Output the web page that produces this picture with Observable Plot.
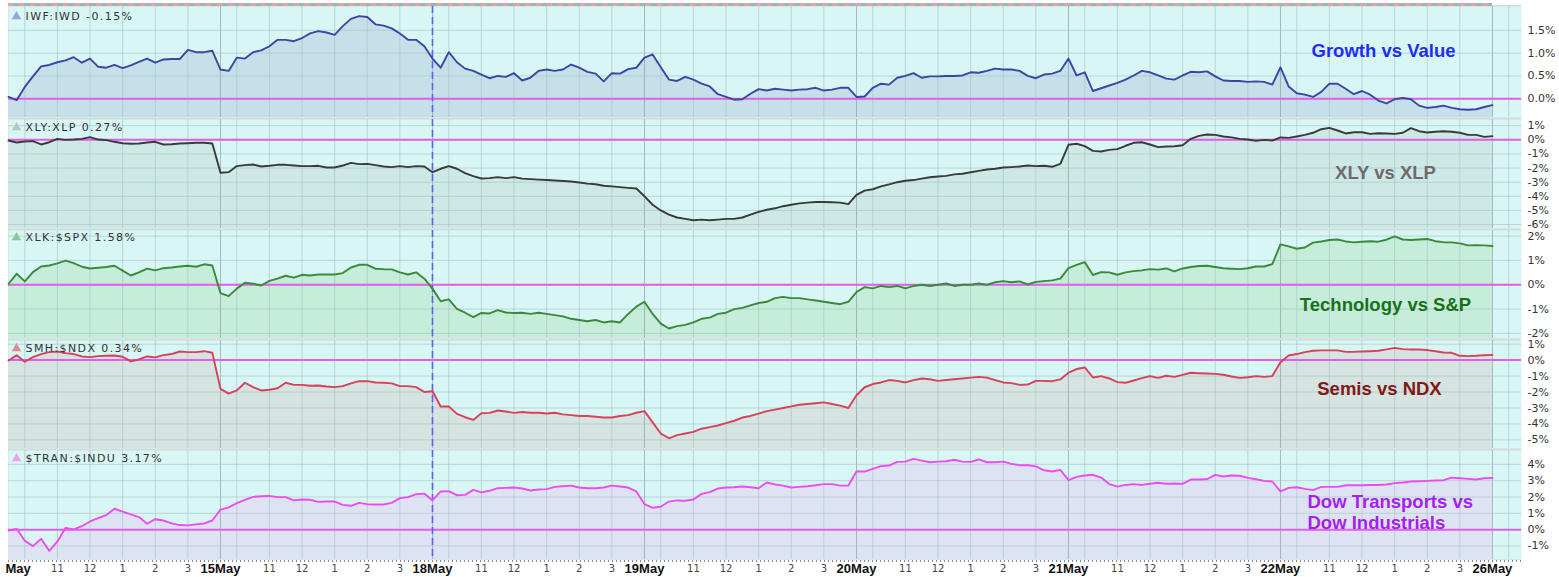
<!DOCTYPE html>
<html><head><meta charset="utf-8">
<script src="https://cdn.jsdelivr.net/npm/d3@7"></script>
<script src="https://cdn.jsdelivr.net/npm/@observablehq/plot@0.6"></script>
<style>
body{margin:0;background:#fff;}
#chart{position:relative;width:1559px;height:577px;overflow:hidden;background:#fff;}
#chart svg{position:absolute;left:0;overflow:visible;}
#sep{position:absolute;left:8px;top:5px;width:1513px;height:555px;background:#d3dbdb;}
</style></head><body><div id="chart"><div id="sep"></div></div>
<script>
// ---- data ----
const dayLabels = ["May","15May","18May","19May","20May","21May","22May","26May"];
const hourLabels = ["11","12","1","2","3"];
const highlightDay = "18May";
const seriesNames = ["IWF:IWD","XLY:XLP","XLK:$SPX","SMH:$NDX","$TRAN:$INDU"];
const lastChange = ["-0.15%","0.27%","1.58%","0.34%","3.17%"];
const notes = ["Growth vs Value","XLY vs XLP","Technology vs S&P","Semis vs NDX","Dow Transports vs\nDow Industrials"];
const ticks = [[1.5,1,0.5,0],[1,0,-1,-2,-3,-4,-5,-6],[2,1,0,-1,-2],[1,0,-1,-2,-3,-4,-5],[4,3,2,1,0,-1]];

// 15-minute closes, % relative change (one row per session)
const iwfIwd = [
 0.04,-0.03,0.26,0.49,0.71,0.74,0.80,0.84,0.91,0.79,0.88,0.70,0.68,0.74,0.67,0.73,0.81,0.88,0.79,0.86,0.87,0.87,1.07,1.02,1.02,1.05,
 0.64,0.61,0.90,0.88,1.02,1.06,1.15,1.29,1.29,1.26,1.33,1.43,1.48,1.45,1.40,1.59,1.75,1.81,1.79,1.63,1.60,1.54,1.43,1.29,1.29,1.15,
 0.88,0.68,1.02,0.80,0.66,0.61,0.53,0.45,0.50,0.48,0.56,0.40,0.46,0.61,0.64,0.61,0.64,0.75,0.68,0.59,0.55,0.38,0.56,0.55,0.65,0.68,
 0.90,0.97,0.69,0.42,0.39,0.48,0.42,0.33,0.27,0.10,0.04,-0.02,-0.01,0.11,0.21,0.18,0.22,0.20,0.18,0.20,0.21,0.24,0.18,0.20,0.24,0.24,
 0.04,0.05,0.24,0.33,0.31,0.46,0.50,0.56,0.46,0.49,0.49,0.50,0.50,0.51,0.58,0.57,0.61,0.66,0.64,0.64,0.61,0.50,0.45,0.53,0.55,0.61,
 0.88,0.51,0.58,0.17,0.23,0.29,0.35,0.42,0.51,0.61,0.58,0.51,0.44,0.42,0.51,0.59,0.58,0.60,0.49,0.40,0.39,0.39,0.37,0.38,0.37,0.31,
 0.69,0.27,0.12,0.09,0.04,0.15,0.33,0.33,0.22,0.10,0.17,0.09,-0.04,-0.10,-0.01,0.02,-0.01,-0.15,-0.20,-0.18,-0.15,-0.20,-0.23,-0.24,-0.23,-0.18,-0.14];
const xlyXlp = [
 -0.05,-0.19,-0.12,-0.09,-0.33,-0.17,0.07,0.00,0.02,0.07,0.19,0.02,-0.02,-0.14,-0.24,-0.28,-0.26,-0.19,-0.14,-0.33,-0.31,-0.26,-0.24,-0.21,-0.21,-0.26,
 -2.33,-2.29,-1.86,-1.79,-1.75,-1.89,-1.84,-1.77,-1.77,-1.82,-1.86,-1.86,-1.84,-1.96,-1.96,-1.82,-1.63,-1.72,-1.70,-1.79,-1.89,-1.93,-1.86,-1.93,-1.86,-1.89,
 -2.29,-2.05,-1.86,-2.05,-2.36,-2.57,-2.74,-2.71,-2.64,-2.71,-2.64,-2.75,-2.78,-2.82,-2.85,-2.88,-2.92,-2.95,-3.02,-3.10,-3.15,-3.25,-3.30,-3.35,-3.40,-3.45,
 -4.00,-4.60,-5.00,-5.30,-5.50,-5.60,-5.70,-5.65,-5.70,-5.65,-5.60,-5.60,-5.50,-5.30,-5.10,-4.95,-4.85,-4.70,-4.60,-4.50,-4.45,-4.40,-4.40,-4.42,-4.45,-4.55,
 -3.90,-3.60,-3.50,-3.30,-3.15,-3.00,-2.90,-2.85,-2.75,-2.65,-2.60,-2.55,-2.45,-2.40,-2.30,-2.20,-2.10,-2.05,-1.96,-1.93,-1.89,-1.82,-1.86,-1.84,-1.91,-1.70,
 -0.35,-0.28,-0.45,-0.78,-0.83,-0.71,-0.66,-0.42,-0.21,-0.17,-0.33,-0.52,-0.47,-0.45,-0.38,0.07,0.28,0.38,0.35,0.24,0.17,0.07,0.02,-0.07,0.00,-0.05,
 0.17,0.14,0.24,0.35,0.50,0.75,0.85,0.66,0.45,0.54,0.54,0.42,0.47,0.45,0.42,0.50,0.83,0.61,0.52,0.57,0.61,0.57,0.50,0.35,0.35,0.21,0.26];
const xlkSpx = [
 0.04,0.45,0.14,0.52,0.75,0.79,0.88,0.99,0.89,0.74,0.67,0.70,0.73,0.78,0.58,0.38,0.51,0.66,0.59,0.68,0.71,0.75,0.78,0.74,0.84,0.79,
 -0.34,-0.47,-0.16,0.08,0.04,-0.03,0.16,0.25,0.37,0.29,0.41,0.38,0.42,0.42,0.42,0.48,0.71,0.82,0.82,0.66,0.64,0.63,0.51,0.42,0.51,0.25,
 -0.16,-0.68,-0.60,-0.99,-1.15,-1.33,-1.16,-1.18,-1.04,-1.14,-1.16,-1.15,-1.20,-1.15,-1.20,-1.25,-1.30,-1.40,-1.45,-1.50,-1.45,-1.55,-1.50,-1.55,-1.20,-0.90,
 -0.70,-1.20,-1.60,-1.80,-1.70,-1.65,-1.55,-1.40,-1.35,-1.20,-1.15,-1.00,-0.95,-0.85,-0.75,-0.70,-0.55,-0.50,-0.55,-0.55,-0.60,-0.65,-0.70,-0.75,-0.80,-0.70,
 -0.30,-0.10,-0.15,-0.05,-0.10,-0.05,-0.15,-0.05,0.00,-0.05,0.00,0.05,-0.05,0.00,0.00,0.05,0.00,0.10,0.15,0.10,0.14,0.01,0.12,0.15,0.18,0.25,
 0.68,0.82,0.93,0.40,0.52,0.51,0.41,0.51,0.56,0.59,0.64,0.62,0.67,0.55,0.67,0.73,0.77,0.78,0.73,0.68,0.66,0.64,0.68,0.75,0.75,0.85,
 1.66,1.58,1.48,1.53,1.73,1.78,1.84,1.86,1.78,1.74,1.77,1.79,1.77,1.85,1.99,1.86,1.84,1.86,1.88,1.79,1.75,1.74,1.70,1.62,1.63,1.62,1.59];
const smhNdx = [
 -0.02,0.30,-0.10,0.19,0.38,0.50,0.54,0.44,0.38,0.23,0.19,0.25,0.27,0.29,0.21,-0.08,0.04,0.23,0.17,0.31,0.38,0.54,0.50,0.50,0.56,0.46,
 -1.80,-2.10,-1.90,-1.42,-1.69,-1.90,-1.86,-1.76,-1.42,-1.55,-1.55,-1.61,-1.59,-1.65,-1.69,-1.63,-1.46,-1.32,-1.32,-1.40,-1.42,-1.46,-1.63,-1.63,-1.69,-2.00,
 -1.95,-2.91,-2.91,-3.37,-3.58,-3.75,-3.33,-3.31,-3.16,-3.22,-3.31,-3.25,-3.30,-3.30,-3.35,-3.30,-3.40,-3.45,-3.50,-3.50,-3.55,-3.60,-3.60,-3.50,-3.45,-3.30,
 -3.20,-3.90,-4.60,-4.90,-4.70,-4.60,-4.50,-4.30,-4.20,-4.10,-3.95,-3.80,-3.60,-3.50,-3.35,-3.20,-3.10,-3.00,-2.90,-2.80,-2.75,-2.70,-2.65,-2.75,-2.85,-3.00,
 -2.20,-1.70,-1.50,-1.40,-1.25,-1.30,-1.40,-1.25,-1.15,-1.20,-1.30,-1.25,-1.20,-1.15,-1.10,-1.05,-1.10,-1.25,-1.40,-1.44,-1.55,-1.53,-1.30,-1.30,-1.32,-1.21,
 -0.79,-0.56,-0.46,-1.09,-1.00,-1.15,-1.38,-1.42,-1.28,-1.13,-1.00,-1.11,-0.98,-1.05,-0.92,-0.79,-0.82,-0.84,-0.86,-0.92,-1.03,-1.11,-1.07,-1.00,-1.05,-1.00,
 -0.13,0.29,0.38,0.50,0.59,0.61,0.61,0.61,0.52,0.52,0.54,0.56,0.59,0.67,0.77,0.69,0.67,0.67,0.63,0.56,0.48,0.46,0.27,0.25,0.27,0.31,0.33];
const tranIndu = [
 -0.05,0.05,-0.68,-1.01,-0.56,-1.30,-0.72,0.11,0.01,0.21,0.50,0.70,0.89,1.28,1.11,0.93,0.77,0.36,0.64,0.56,0.38,0.28,0.26,0.32,0.38,0.56,
 1.23,1.36,1.62,1.83,2.01,2.05,2.07,1.99,1.99,1.79,1.85,1.83,1.70,1.72,1.72,1.52,1.46,1.64,1.56,1.54,1.54,1.64,1.93,1.99,2.17,2.21,
 1.79,2.34,2.36,2.11,2.13,2.44,2.28,2.38,2.54,2.56,2.58,2.52,2.40,2.46,2.48,2.62,2.66,2.70,2.58,2.54,2.54,2.58,2.70,2.64,2.58,2.34,
 1.56,1.34,1.40,1.72,1.79,1.77,1.85,2.19,2.30,2.52,2.58,2.60,2.64,2.60,2.54,2.89,2.77,2.70,2.58,2.62,2.66,2.72,2.79,2.79,2.70,2.70,
 3.56,3.56,3.72,3.89,3.93,4.15,4.17,4.34,4.23,4.13,4.17,4.19,4.28,4.17,4.15,4.30,4.13,4.13,4.17,4.03,3.95,3.95,3.88,3.64,3.56,3.66,
 3.03,3.23,3.32,3.36,3.19,2.79,2.64,2.74,2.79,2.74,2.81,2.87,2.81,2.83,2.81,3.07,3.07,3.09,3.36,3.26,3.32,3.30,3.17,3.09,2.99,2.95,
 2.34,2.56,2.60,2.50,2.42,2.62,2.62,2.62,2.72,2.72,2.72,2.74,2.74,2.77,2.85,2.89,2.95,2.97,2.99,3.01,3.03,3.19,3.15,3.11,3.07,3.15,3.17];
const series = [iwfIwd, xlyXlp, xlkSpx, smhNdx, tranIndu];

// ---- time axis (trading hours since first open) ----
const sessionHours = 6.5, barHours = 0.25, xMax = 46.39;
const dayStarts = dayLabels.map((_, d) => d * sessionHours);
const hourOffsets = [0.5, 1.5, 2.5, 3.5, 4.5, 5.5]; // 10:00 .. 3:00 after a 9:30 open
const hourGrid = dayStarts.flatMap(s => hourOffsets.map(h => s + h)).filter(t => t < xMax);
const dayGrid = dayStarts.filter(t => t > 0);
const hourTicks = dayStarts.slice(0, -1).flatMap(s => hourLabels.map((label, i) => ({t: s + hourOffsets[i + 1], label})));
const dayTicks = dayLabels.map((label, d) => ({t: dayStarts[d], label}));
const highlightT = dayStarts[dayLabels.indexOf(highlightDay)];

// ---- styles / layout ----
const BG = "#d7f6f4", GRID = "#a3c2c2", DAYGRID = "#8f9ea8", ZERO = "#e25ee8";
const NOTE_SIZE = 18.5;
const layout = [
  {top: 0, height: 117, mt: 6, mb: 0, domain: [-0.41, 2.02], line: "#3c45a5", fill: "#c6e0e9", icon: "#9aa3dd", fmt: d => d.toFixed(1) + "%", titleDy: 10,
   note: {dx: 1375, dy: 44, anchor: "middle", color: "#1f2df2"}},
  {top: 119, height: 109, mt: 0, mb: 0, domain: [-6.28, 1.44], line: "#3a3a3a", fill: "#cde9e6", icon: "#b9c4c4", fmt: d => d + "%", titleDy: 8,
   note: {dx: 1377, dy: 53, anchor: "middle", color: "#6f6a6e"}},
  {top: 230, height: 108, mt: 0, mb: 0, domain: [-2.21, 2.23], line: "#3a8a3a", fill: "#c6ecda", icon: "#8fc59a", fmt: d => d + "%", titleDy: 7,
   note: {dx: 1377, dy: 74, anchor: "middle", color: "#177217"}},
  {top: 340, height: 108, mt: 0, mb: 0, domain: [-5.54, 1.23], line: "#d8405c", fill: "#d5e3e1", icon: "#e08a8a", fmt: d => d + "%", titleDy: 8,
   note: {dx: 1371, dy: 48, anchor: "middle", color: "#821818"}},
  {top: 450, height: 127, mt: 0, mb: 18, domain: [-1.83, 4.85], line: "#ee4cf0", fill: "#dee3f4", icon: "#eea0f0", fmt: d => d + "%", titleDy: 8,
   note: {dx: 1299, dy: 61.5, anchor: "start", color: "#a41ff0"}}
];

const chart = document.getElementById("chart");
series.forEach((vals, i) => {
  const L = layout[i];
  const [lo, hi] = L.domain;
  const data = vals.map((v, k) => ({t: k * barHours, v}));
  const tEnd = data[data.length - 1].t;
  const title = seriesNames[i] + " " + lastChange[i];
  const marks = [
    Plot.frame({fill: BG, stroke: null}),
    Plot.areaY(data, {x: "t", y1: lo, y2: "v", fill: L.fill}),
    Plot.ruleX(hourGrid, {stroke: GRID, strokeOpacity: 0.6}),
    Plot.ruleX(dayGrid, {stroke: DAYGRID, strokeOpacity: 0.7}),
    Plot.ruleY(ticks[i], {stroke: GRID, strokeOpacity: 0.6}),
    Plot.ruleY([0], {stroke: ZERO, strokeWidth: 2}),
    Plot.ruleX([highlightT], {stroke: "#5962f2", strokeWidth: 1.6, strokeDasharray: "7,4"}),
    Plot.lineY(data, {x: "t", y: "v", stroke: L.line, strokeWidth: 1.9, strokeLinejoin: "round"}),
    Plot.axisY(ticks[i], {anchor: "right", label: null, tickSize: 0, tickPadding: 6, tickFormat: L.fmt, fontSize: 11, fill: "#333", fontFamily: "DejaVu Sans"}),
    Plot.dot([0], {frameAnchor: "top-left", dx: 8, dy: L.titleDy, symbol: "triangle", r: 3.5, fill: L.icon}),
    Plot.text([title], {frameAnchor: "top-left", dx: 17, dy: L.titleDy, text: d => d,
      textAnchor: "start", lineAnchor: "middle", fontFamily: "DejaVu Sans", fontSize: 11, fill: "#333"}),
    Plot.text([notes[i]], {frameAnchor: "top-left", dx: L.note.dx, dy: L.note.dy, text: d => d, textAnchor: L.note.anchor,
      lineAnchor: "middle", lineHeight: 1.14, fontFamily: "Liberation Sans, Arial, sans-serif", fontWeight: "bold", fontSize: NOTE_SIZE, fill: L.note.color})
  ];
  if (i === 0) {
    marks.push(Plot.ruleY([hi], {x1: 0, x2: tEnd, dy: -2, stroke: "#9db5b5", strokeWidth: 3}));
    marks.push(Plot.ruleY([hi], {x1: 0, x2: tEnd, dy: -2, stroke: "#e5a3a3", strokeWidth: 3, strokeDasharray: "5,6"}));
  }
  if (i === series.length - 1) {
    marks.push(Plot.ruleY([lo], {dy: 1.5, stroke: "#8a8a8a", strokeWidth: 2, strokeDasharray: "1,3"}));
    marks.push(Plot.text(hourTicks, {x: "t", text: "label", frameAnchor: "bottom", dy: 9, lineAnchor: "middle",
      fontFamily: "DejaVu Sans", fontSize: 10, fill: "#444"}));
    marks.push(Plot.text(dayTicks.slice(1), {x: "t", text: "label", frameAnchor: "bottom", dy: 9, lineAnchor: "middle",
      fontFamily: "Liberation Sans, Arial, sans-serif", fontWeight: "bold", fontSize: 13, fill: "#111"}));
    marks.push(Plot.text(dayTicks.slice(0, 1), {x: "t", text: "label", frameAnchor: "bottom", dy: 9, dx: -3, textAnchor: "start", lineAnchor: "middle",
      fontFamily: "Liberation Sans, Arial, sans-serif", fontWeight: "bold", fontSize: 13, fill: "#111"}));
  }
  const svg = Plot.plot({
    width: 1559, height: L.height,
    marginLeft: 8, marginRight: 38, marginTop: L.mt, marginBottom: L.mb,
    style: {background: "transparent", fontFamily: "DejaVu Sans", overflow: "visible"},
    x: {domain: [0, xMax], axis: null},
    y: {domain: [lo, hi], axis: null},
    marks
  });
  // StockCharts-style wide tracking for the panel title
  svg.querySelectorAll("text").forEach(t => { if (t.textContent === title) t.setAttribute("letter-spacing", "1.4"); });
  svg.style.top = L.top + "px";
  chart.appendChild(svg);
});
</script>
</body></html>
